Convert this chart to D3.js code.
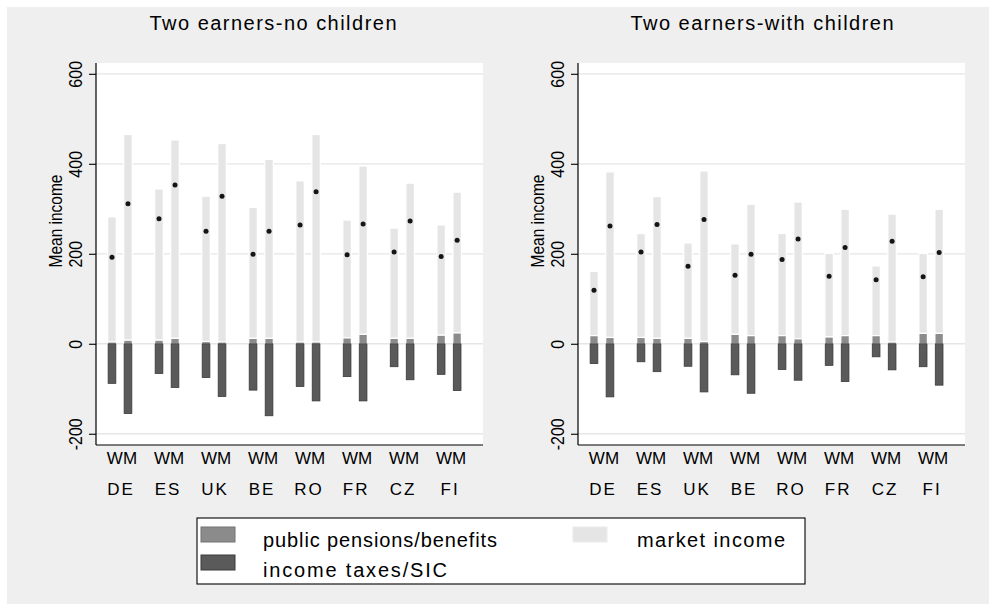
<!DOCTYPE html>
<html>
<head>
<meta charset="utf-8">
<script src="https://cdn.jsdelivr.net/npm/d3@7"></script>
<style>
  html, body { margin: 0; padding: 0; background: #ffffff; }
  svg { display: block; font-family: "Liberation Sans", Arial, sans-serif; }
</style>
</head>
<body>
<svg id="chart" width="989" height="604"></svg>
<script>
// Countries along the x axis, each with a W and an M bar
const countries = ["DE", "ES", "UK", "BE", "RO", "FR", "CZ", "FI"];
const barTypes = ["W", "M"];
const typeLabel = "WM";
const yTicks = [-200, 0, 200, 400, 600];
const yTitle = "Mean income";
const panelTitles = ["Two earners-no children", "Two earners-with children"];
const legendLabels = ["public pensions/benefits", "market income", "income taxes/SIC"];

// Two earners, no children
const noKidsW_market  = [278, 336, 323, 291, 358, 262, 245, 245];
const noKidsW_pension = [4, 8, 5, 12, 4, 13, 12, 19];
const noKidsW_taxes   = [-88, -66, -75, -103, -95, -73, -51, -68];
const noKidsW_mean    = [192, 278, 250, 199, 264, 198, 204, 194];

const noKidsM_market  = [457, 441, 441, 398, 461, 374, 345, 313];
const noKidsM_pension = [8, 12, 4, 12, 4, 21, 12, 24];
const noKidsM_taxes   = [-155, -97, -117, -160, -127, -127, -80, -104];
const noKidsM_mean    = [311, 353, 328, 250, 338, 266, 273, 230];

// Two earners, with children
const kidsW_market  = [143, 231, 212, 201, 227, 186, 155, 178];
const kidsW_pension = [18, 14, 12, 21, 18, 15, 18, 23];
const kidsW_taxes   = [-44, -40, -50, -69, -57, -48, -29, -51];
const kidsW_mean    = [119, 204, 172, 152, 187, 150, 142, 149];

const kidsM_market  = [368, 315, 379, 292, 304, 281, 284, 276];
const kidsM_pension = [14, 12, 5, 18, 11, 18, 4, 23];
const kidsM_taxes   = [-118, -62, -107, -110, -81, -84, -58, -92];
const kidsM_mean    = [262, 265, 276, 199, 233, 214, 228, 203];

// Build per-panel series tables
function series(market, pension, taxes, mean) {
  return countries.map((c, i) => ({
    country: c, market: market[i], pension: pension[i], taxes: taxes[i], mean: mean[i]
  }));
}
const panels = [
  {
    title: panelTitles[0], x0: 96, titleX: 273, titleW: 247,
    W: series(noKidsW_market, noKidsW_pension, noKidsW_taxes, noKidsW_mean),
    M: series(noKidsM_market, noKidsM_pension, noKidsM_taxes, noKidsM_mean)
  },
  {
    title: panelTitles[1], x0: 578, titleX: 762, titleW: 263,
    W: series(kidsW_market, kidsW_pension, kidsW_taxes, kidsW_mean),
    M: series(kidsM_market, kidsM_pension, kidsM_taxes, kidsM_mean)
  }
];

const colors = {
  market: "#e5e5e5",
  pension: "#8b8b8b", pensionEdge: "#727272",
  taxes: "#5a5a5a", taxesEdge: "#3a3a3a",
  grid: "#e6e6e6", bg: "#efefef"
};

const svg = d3.select("#chart");
svg.append("rect").attr("x", 7).attr("y", 7).attr("width", 982).attr("height", 597)
  .attr("fill", colors.bg);

const plotTop = 63, plotBottom = 445, plotWidth = 387;
const barW = 8.5, typeOffset = { W: -8, M: 8 };

const y = d3.scaleLinear().domain([-225, 624]).range([plotBottom, plotTop]);

panels.forEach(p => {
  const g = svg.append("g");
  const x = d3.scaleLinear().domain([-0.51, 7.72]).range([p.x0, p.x0 + plotWidth]);

  g.append("rect").attr("x", p.x0).attr("y", plotTop)
    .attr("width", plotWidth).attr("height", plotBottom - plotTop).attr("fill", "#ffffff");

  g.selectAll("line.grid").data(yTicks).join("line").attr("class", "grid")
    .attr("x1", p.x0).attr("x2", p.x0 + plotWidth)
    .attr("y1", d => y(d)).attr("y2", d => y(d))
    .attr("stroke", colors.grid).attr("stroke-width", 1.3);

  barTypes.forEach(t => {
    const rows = p[t];
    const bx = (d, i) => x(i) + typeOffset[t] - barW / 2;

    g.selectAll(null).data(rows).join("rect")
      .attr("x", bx).attr("width", barW)
      .attr("y", d => y(d.pension + d.market))
      .attr("height", d => y(d.pension) - y(d.pension + d.market))
      .attr("fill", colors.market).attr("stroke", "#ffffff").attr("stroke-width", 1.2);

    g.selectAll(null).data(rows).join("rect")
      .attr("x", bx).attr("width", barW)
      .attr("y", d => y(d.pension))
      .attr("height", d => y(0) - y(d.pension))
      .attr("fill", colors.pension).attr("stroke", "#ffffff").attr("stroke-width", 1.2);

    g.selectAll(null).data(rows).join("rect")
      .attr("x", (d, i) => bx(d, i) + 0.4).attr("width", barW - 0.8)
      .attr("y", y(0))
      .attr("height", d => y(d.taxes) - y(0))
      .attr("fill", colors.taxes).attr("stroke", colors.taxesEdge).attr("stroke-width", 0.8);

    g.selectAll(null).data(rows).join("circle")
      .attr("cx", (d, i) => x(i) + typeOffset[t])
      .attr("cy", d => y(d.mean))
      .attr("r", 2.5).attr("fill", "#151515");
  });

  // Left value axis with rotated labels
  const axis = g.append("g").attr("transform", `translate(${p.x0},0)`)
    .call(d3.axisLeft(y).tickValues(yTicks).tickSize(7).tickFormat(d => String(d)));
  axis.select(".domain").attr("d", `M0,${plotTop}V${plotBottom}`).attr("stroke", "#000").attr("stroke-width", 1.2);
  axis.selectAll(".tick line").attr("stroke", "#000").attr("stroke-width", 1.1);
  axis.selectAll(".tick text")
    .attr("x", 0).attr("dy", 0).attr("text-anchor", "middle")
    .attr("transform", "translate(-14,0) rotate(-90) scale(1,1.2)")
    .attr("font-size", 16).attr("fill", "#000")
    .attr("font-family", "Liberation Sans, Arial, sans-serif");

  g.append("line").attr("x1", p.x0).attr("x2", p.x0 + plotWidth)
    .attr("y1", plotBottom).attr("y2", plotBottom)
    .attr("stroke", "#000").attr("stroke-width", 1.2);

  g.append("text")
    .attr("transform", `translate(${p.x0 - 34},221) rotate(-90) scale(1,1.2)`)
    .attr("text-anchor", "middle").attr("font-size", 15.5).attr("fill", "#000")
    .text(yTitle);

  // Category labels
  g.selectAll(null).data(countries).join("text")
    .attr("x", (d, i) => x(i) + 2).attr("y", 464)
    .attr("text-anchor", "middle").attr("font-size", 17).attr("fill", "#000")
    .text(typeLabel);
  g.selectAll(null).data(countries).join("text")
    .attr("x", (d, i) => x(i) + 1).attr("y", 495)
    .attr("text-anchor", "middle").attr("font-size", 17).attr("letter-spacing", 2)
    .attr("fill", "#000")
    .text(d => d);

  g.append("text")
    .attr("x", p.titleX).attr("y", 30)
    .attr("text-anchor", "middle").attr("font-size", 20).attr("fill", "#000")
    .attr("textLength", p.titleW).attr("lengthAdjust", "spacing")
    .text(p.title);
});

// Legend
const lg = svg.append("g");
lg.append("rect").attr("x", 197).attr("y", 518).attr("width", 608).attr("height", 66)
  .attr("fill", "#ffffff").attr("stroke", "#000").attr("stroke-width", 1.1);
const legendItems = [
  { label: legendLabels[0], fill: colors.pension, edge: colors.pensionEdge, sx: 201, tx: 263, sy: 527, ty: 547, w: 234 },
  { label: legendLabels[1], fill: colors.market, edge: "#ececec", sx: 573, tx: 637, sy: 527, ty: 547, w: 148 },
  { label: legendLabels[2], fill: colors.taxes, edge: colors.taxesEdge, sx: 201, tx: 263, sy: 555, ty: 577, w: 184 }
];
legendItems.forEach(it => {
  lg.append("rect").attr("x", it.sx).attr("y", it.sy).attr("width", 34).attr("height", 15)
    .attr("fill", it.fill).attr("stroke", it.edge).attr("stroke-width", 1);
  lg.append("text").attr("x", it.tx).attr("y", it.ty)
    .attr("font-size", 20).attr("fill", "#000")
    .attr("textLength", it.w).attr("lengthAdjust", "spacing")
    .text(it.label);
});
</script>
</body>
</html>
